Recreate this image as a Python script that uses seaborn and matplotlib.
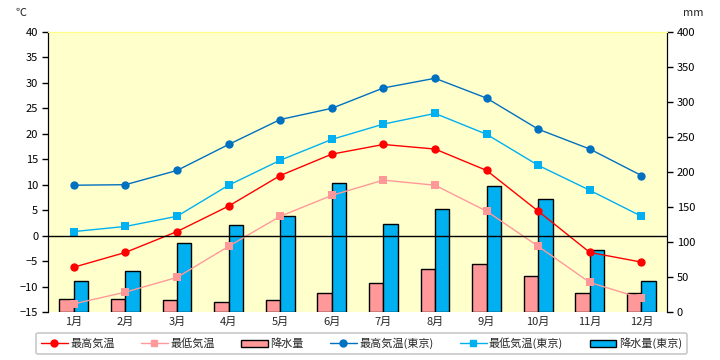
import numpy as np
import pandas as pd
import seaborn as sns
import matplotlib.pyplot as plt
from matplotlib.patches import Patch
from matplotlib.lines import Line2D

months = [f"{i}月" for i in range(1, 13)]
high = [-6.2, -3.3, 0.8, 5.8, 11.8, 16.0, 17.9, 17.0, 12.8, 4.8, -3.3, -5.2]
low = [-13.4, -11.1, -8.2, -2.1, 3.8, 7.9, 10.9, 9.9, 4.8, -2.1, -9.2, -12.3]
rain = [18, 18, 17, 15, 17, 27, 41, 61, 68, 51, 27, 27]
tokyo_high = [9.9, 10.0, 12.8, 17.9, 22.8, 25.0, 29.0, 30.9, 27.0, 20.9, 17.0, 11.8]
tokyo_low = [0.8, 1.8, 3.8, 9.9, 14.8, 18.9, 21.9, 24.0, 19.9, 13.8, 8.9, 3.8]
tokyo_rain = [44, 58, 98, 124, 137, 184, 125, 147, 180, 162, 88, 44]

sns.set_style("white")
plt.rcParams['font.family'] = ['Noto Sans CJK JP', 'DejaVu Sans']

fig = plt.figure(figsize=(7.2, 3.6), dpi=100)
ax = fig.add_axes([0.0667, 0.1333, 0.86, 0.778])
ax2 = ax.twinx()

# precipitation bars (right axis)
df_rain = pd.DataFrame({
    'month': months * 2,
    'series': ['降水量'] * 12 + ['降水量(東京)'] * 12,
    'mm': rain + tokyo_rain,
})
sns.barplot(data=df_rain, x='month', y='mm', hue='series', order=months,
            palette=['#FF9999', '#00B0F0'], saturation=1, width=0.56, gap=0,
            edgecolor='black', linewidth=1, errorbar=None, legend=False, ax=ax2)

# temperature lines (left axis)
lines = [
    ('最高気温', high, '#FF0000', 'o'),
    ('最低気温', low, '#FF9999', 's'),
    ('最高気温(東京)', tokyo_high, '#0070C0', 'o'),
    ('最低気温(東京)', tokyo_low, '#00B0F0', 's'),
]
for name, vals, col, mk in lines:
    sns.lineplot(x=months, y=vals, sort=False, color=col, marker=mk,
                 markersize=6, markeredgewidth=0, linewidth=1, ax=ax)
ax.axhline(0, color='black', linewidth=1)

ax.set_zorder(ax2.get_zorder() + 1)
ax.patch.set_visible(False)
ax2.patch.set_visible(True)
ax2.set_facecolor('#FFFFCC')

ax.set_xlim(-0.5, 11.5)
ax.set_ylim(-15, 40)
ax.set_yticks(np.arange(-15, 41, 5))
ax2.set_ylim(0, 400)
ax2.set_yticks(np.arange(0, 401, 50))
ax.set_xlabel('')
ax.set_ylabel('')
ax2.set_xlabel('')
ax2.set_ylabel('')

for a in (ax, ax2):
    a.tick_params(axis='y', direction='out', length=4, width=1, labelsize=8, colors='black', pad=3)
    a.tick_params(axis='x', length=0, labelsize=8)
    a.spines['bottom'].set_visible(False)
    a.spines['top'].set_color('#FFFF88')
    a.spines['left'].set_color('black')
    a.spines['right'].set_color('black')

fig.text(0.022, 0.955, '℃', fontsize=8)
fig.text(0.948, 0.955, 'mm', fontsize=8)

handles = [
    Line2D([], [], color='#FF0000', marker='o', markersize=5, linewidth=1),
    Line2D([], [], color='#FF9999', marker='s', markersize=5, linewidth=1),
    Patch(facecolor='#FF9999', edgecolor='black'),
    Line2D([], [], color='#0070C0', marker='o', markersize=5, linewidth=1),
    Line2D([], [], color='#00B0F0', marker='s', markersize=5, linewidth=1),
    Patch(facecolor='#00B0F0', edgecolor='black'),
]
labels = ['最高気温', '最低気温', '降水量', '最高気温(東京)', '最低気温(東京)', '降水量(東京)']
leg = fig.legend(handles, labels, loc='lower center', bbox_to_anchor=(0.502, 0.0),
                 ncol=6, fontsize=8, frameon=True, fancybox=True,
                 edgecolor='#BBBBBB', handlelength=2.4, handletextpad=0.2,
                 columnspacing=2.4, borderpad=0.45)
leg.get_frame().set_linewidth(1.2)

fig.savefig('out.png', dpi=100)
